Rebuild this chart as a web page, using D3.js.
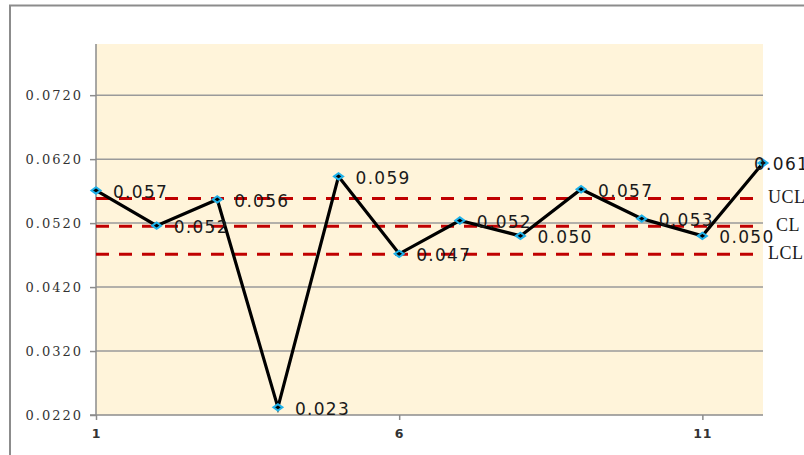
<!DOCTYPE html>
<html>
<head>
<meta charset="utf-8">
<script src="https://cdn.jsdelivr.net/npm/d3@7/dist/d3.min.js"></script>
<style>
  html, body { margin: 0; padding: 0; background: #ffffff; }
  svg { display: block; }
</style>
</head>
<body>
<svg id="chart" width="804" height="455"></svg>
<script>
// Sample numbers (1..12) and the measured proportion for each sample
const samples = [1, 2, 3, 4, 5, 6, 7, 8, 9, 10, 11, 12];
const values = [0.0571, 0.0516, 0.0557, 0.0232, 0.0593, 0.0472, 0.0524, 0.0500, 0.0573, 0.0527, 0.0500, 0.0614];

// Control limits
const limitNames = ["UCL", "CL", "LCL"];
const limitValues = [0.05586, 0.05151, 0.04715];

// Axis ticks
const yTicks = [0.022, 0.032, 0.042, 0.052, 0.062, 0.072];
const xTicks = [1, 6, 11];
const yDomain = [0.022, 0.080];

const svg = d3.select("#chart");
const plot = { left: 96, right: 763, top: 44, bottom: 415 };

const x = d3.scaleLinear().domain([1, 12]).range([plot.left, plot.right]);
const y = d3.scaleLinear().domain(yDomain).range([plot.bottom, plot.top]);

// Outer chart frame (top and left edges visible)
svg.append("path")
  .attr("d", "M10,455 L10,5.5 L804,5.5")
  .attr("fill", "none")
  .attr("stroke", "#8c8c8c")
  .attr("stroke-width", 2);

// Plot background
svg.append("rect")
  .attr("x", plot.left).attr("y", plot.top)
  .attr("width", plot.right - plot.left)
  .attr("height", plot.bottom - plot.top)
  .attr("fill", "#fff4da");

// Horizontal gridlines
svg.append("g")
  .selectAll("line")
  .data(yTicks.filter(d => d > yDomain[0]))
  .join("line")
  .attr("x1", plot.left).attr("x2", plot.right)
  .attr("y1", d => y(d)).attr("y2", d => y(d))
  .attr("stroke", "#9a9a9a")
  .attr("stroke-width", 1.5);

// Y axis
const yAxis = d3.axisLeft(y)
  .tickValues(yTicks)
  .tickFormat(d3.format(".4f"))
  .tickSize(6)
  .tickPadding(9);
const gy = svg.append("g")
  .attr("transform", `translate(${plot.left},0)`)
  .call(yAxis);
gy.select(".domain").attr("stroke", "#8c8c8c").attr("stroke-width", 1.5)
  .attr("d", `M-6,${plot.bottom}H0V${plot.top}`);
gy.selectAll(".tick line").attr("stroke", "#8c8c8c").attr("stroke-width", 1.5);
gy.selectAll(".tick text")
  .attr("font-family", "'DejaVu Serif', serif")
  .attr("font-size", 13)
  .attr("letter-spacing", "2px")
  .attr("fill", "#333333")
  .attr("dx", "2");

// X axis
const xAxis = d3.axisBottom(x)
  .tickValues(xTicks)
  .tickFormat(d3.format("d"))
  .tickSize(5)
  .tickPadding(9);
const gx = svg.append("g")
  .attr("transform", `translate(0,${plot.bottom})`)
  .call(xAxis);
gx.select(".domain").attr("stroke", "#8c8c8c").attr("stroke-width", 1.5)
  .attr("d", `M${plot.left},0H${plot.right}`);
gx.selectAll(".tick line").attr("stroke", "#8c8c8c").attr("stroke-width", 1.5);
gx.selectAll(".tick text")
  .attr("font-family", "'DejaVu Sans', sans-serif")
  .attr("font-size", 12.5)
  .attr("font-weight", "bold")
  .attr("letter-spacing", "1px")
  .attr("fill", "#333333");

// Control limit lines
svg.append("g")
  .selectAll("line")
  .data(limitValues)
  .join("line")
  .attr("x1", plot.left).attr("x2", plot.right)
  .attr("y1", d => y(d)).attr("y2", d => y(d))
  .attr("stroke", "#c00000")
  .attr("stroke-width", 3)
  .attr("stroke-dasharray", "13,10");

// Control limit labels
svg.append("g")
  .selectAll("text")
  .data(limitNames)
  .join("text")
  .attr("x", d => d === "CL" ? 776 : 768)
  .attr("y", (d, i) => y(limitValues[i]) + 5)
  .attr("font-family", "'Liberation Serif', 'Times New Roman', serif")
  .attr("font-size", 18)
  .attr("letter-spacing", "0.5px")
  .attr("fill", "#1a1a1a")
  .text(d => d);

// Data series line
const line = d3.line()
  .x((d, i) => x(samples[i]))
  .y(d => y(d));
svg.append("path")
  .datum(values)
  .attr("d", line)
  .attr("fill", "none")
  .attr("stroke", "#000000")
  .attr("stroke-width", 3.2)
  .attr("stroke-linejoin", "miter");

// Markers: flat diamonds
svg.append("g")
  .selectAll("path")
  .data(values)
  .join("path")
  .attr("transform", (d, i) => `translate(${x(samples[i])},${y(d)})`)
  .attr("d", "M-4.5,0L0,-3.2L4.5,0L0,3.2Z")
  .attr("fill", "#000000")
  .attr("stroke", "#1fb2ea")
  .attr("stroke-width", 2);

// Data labels
svg.append("g")
  .selectAll("text")
  .data(values)
  .join("text")
  .attr("x", (d, i) => x(samples[i]) + (i === values.length - 1 ? -9 : 17))
  .attr("y", d => y(d) + 7.5)
  .attr("font-family", "'DejaVu Sans', Verdana, sans-serif")
  .attr("font-size", 17)
  .attr("letter-spacing", "1.3px")
  .attr("fill", "#1a1a1a")
  .text(d => d.toFixed(3));
</script>
</body>
</html>
